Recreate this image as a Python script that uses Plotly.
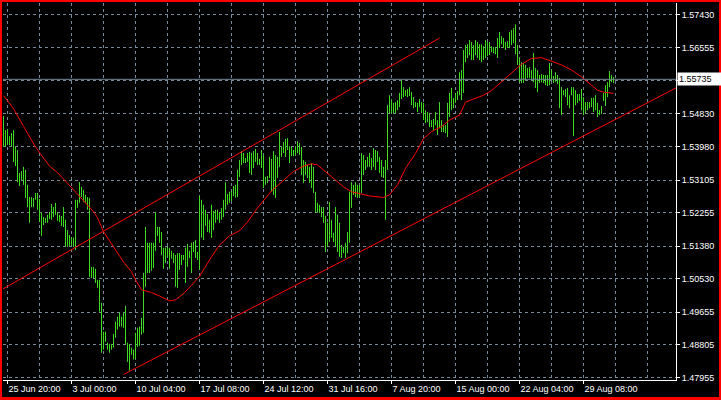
import plotly.graph_objects as go

# ---- bar data (H4 bars, index = bar number) ----
highs = [
1.5478,1.5441,1.5444,1.5425,1.5433,1.5441,1.5397,1.5389,1.5329,1.5334,
1.5345,1.5337,1.5298,1.5266,1.5266,1.5264,1.5277,1.5277,1.5261,1.5225,
1.5214,1.5212,1.5220,1.5227,1.5248,1.5240,1.5251,1.5225,1.5220,1.5217,
1.5240,1.5207,1.5180,1.5167,1.5162,1.5160,1.5259,1.5259,1.5305,1.5293,
1.5285,1.5272,1.5266,1.5264,1.5084,1.5084,1.5079,1.5050,1.5050,1.4990,
1.4915,1.4915,1.4886,1.4883,1.4883,1.4909,1.4941,1.4954,1.4964,1.4954,
1.4964,1.4982,1.4886,1.4883,1.4873,1.4868,1.4912,1.4925,1.4928,1.4951,
1.5068,1.5188,1.5147,1.5147,1.5147,1.5147,1.5225,1.5188,1.5188,1.5175,
1.5134,1.5134,1.5136,1.5134,1.5126,1.5120,1.5115,1.5120,1.5120,1.5115,
1.5115,1.5134,1.5144,1.5126,1.5147,1.5149,1.5154,1.5123,1.5269,1.5259,
1.5246,1.5233,1.5222,1.5207,1.5246,1.5230,1.5233,1.5233,1.5225,1.5238,
1.5259,1.5305,1.5274,1.5280,1.5282,1.5295,1.5298,1.5337,1.5363,1.5386,
1.5381,1.5368,1.5381,1.5384,1.5381,1.5386,1.5392,1.5381,1.5366,1.5389,
1.5376,1.5319,1.5321,1.5371,1.5366,1.5386,1.5376,1.5371,1.5436,1.5397,
1.5410,1.5418,1.5420,1.5399,1.5397,1.5389,1.5399,1.5412,1.5407,1.5397,
1.5363,1.5358,1.5350,1.5345,1.5355,1.5345,1.5280,1.5251,1.5246,1.5240,
1.5240,1.5217,1.5199,1.5253,1.5207,1.5173,1.5240,1.5220,1.5199,1.5141,
1.5136,1.5147,1.5175,1.5280,1.5305,1.5298,1.5305,1.5298,1.5298,1.5381,
1.5376,1.5363,1.5371,1.5381,1.5368,1.5394,1.5389,1.5386,1.5371,1.5363,
1.5345,1.5363,1.5506,1.5532,1.5519,1.5512,1.5514,1.5519,1.5538,1.5571,
1.5553,1.5545,1.5548,1.5553,1.5540,1.5527,1.5514,1.5512,1.5522,1.5514,
1.5512,1.5493,1.5488,1.5485,1.5467,1.5470,1.5488,1.5467,1.5514,1.5467,
1.5454,1.5454,1.5512,1.5538,1.5551,1.5525,1.5538,1.5543,1.5592,1.5598,
1.5650,1.5663,1.5665,1.5676,1.5671,1.5663,1.5676,1.5671,1.5665,1.5665,
1.5660,1.5676,1.5671,1.5671,1.5660,1.5658,1.5658,1.5681,1.5697,1.5686,
1.5681,1.5671,1.5673,1.5697,1.5702,1.5707,1.5717,1.5663,1.5629,1.5618,
1.5616,1.5611,1.5603,1.5605,1.5598,1.5642,1.5603,1.5598,1.5585,1.5587,
1.5585,1.5585,1.5585,1.5616,1.5598,1.5582,1.5592,1.5585,1.5577,1.5553,
1.5545,1.5548,1.5551,1.5532,1.5553,1.5553,1.5545,1.5535,1.5535,1.5548,
1.5527,1.5514,1.5514,1.5514,1.5525,1.5525,1.5532,1.5512,1.5493,1.5504,
1.5538,1.5558,1.5566,1.5595,1.5585,1.5579]

lows = [
1.5397,1.5397,1.5402,1.5402,1.5399,1.5358,1.5347,1.5305,1.5295,1.5311,
1.5298,1.5264,1.5240,1.5199,1.5240,1.5240,1.5259,1.5233,1.5201,1.5165,
1.5193,1.5199,1.5199,1.5209,1.5207,1.5214,1.5220,1.5204,1.5201,1.5191,
1.5188,1.5136,1.5136,1.5139,1.5139,1.5136,1.5128,1.5238,1.5251,1.5266,
1.5253,1.5251,1.5233,1.5058,1.5055,1.5055,1.5042,1.5029,1.4967,1.4860,
1.4868,1.4888,1.4868,1.4860,1.4868,1.4873,1.4899,1.4920,1.4928,1.4928,
1.4925,1.4881,1.4836,1.4813,1.4855,1.4842,1.4844,1.4875,1.4878,1.4907,
1.4912,1.5032,1.5068,1.5068,1.5074,1.5081,1.5126,1.5165,1.5147,1.5115,
1.5079,1.5094,1.5110,1.5079,1.5105,1.5094,1.5032,1.5029,1.5076,1.5089,
1.5102,1.5042,1.5084,1.5107,1.5068,1.5123,1.5107,1.5102,1.5076,1.5160,
1.5154,1.5191,1.5175,1.5173,1.5160,1.5180,1.5199,1.5207,1.5199,1.5207,
1.5214,1.5233,1.5246,1.5251,1.5256,1.5269,1.5264,1.5266,1.5319,1.5350,
1.5355,1.5355,1.5358,1.5329,1.5324,1.5342,1.5358,1.5350,1.5350,1.5342,
1.5290,1.5298,1.5303,1.5316,1.5280,1.5272,1.5264,1.5316,1.5345,1.5371,
1.5381,1.5371,1.5389,1.5355,1.5373,1.5373,1.5376,1.5381,1.5376,1.5324,
1.5303,1.5324,1.5316,1.5303,1.5290,1.5277,1.5225,1.5227,1.5225,1.5214,
1.5199,1.5123,1.5136,1.5149,1.5160,1.5149,1.5136,1.5123,1.5110,1.5107,
1.5120,1.5107,1.5120,1.5147,1.5238,1.5272,1.5266,1.5264,1.5266,1.5277,
1.5324,1.5337,1.5345,1.5345,1.5337,1.5345,1.5337,1.5358,1.5329,1.5319,
1.5316,1.5207,1.5337,1.5485,1.5485,1.5485,1.5485,1.5493,1.5501,1.5522,
1.5527,1.5530,1.5527,1.5530,1.5506,1.5498,1.5501,1.5488,1.5501,1.5485,
1.5467,1.5459,1.5462,1.5449,1.5449,1.5441,1.5454,1.5428,1.5446,1.5436,
1.5436,1.5433,1.5423,1.5475,1.5493,1.5498,1.5512,1.5519,1.5532,1.5519,
1.5538,1.5618,1.5629,1.5637,1.5624,1.5624,1.5637,1.5629,1.5624,1.5618,
1.5624,1.5629,1.5634,1.5637,1.5644,1.5642,1.5639,1.5629,1.5655,1.5665,
1.5655,1.5650,1.5655,1.5655,1.5663,1.5668,1.5639,1.5611,1.5566,1.5564,
1.5564,1.5571,1.5577,1.5577,1.5571,1.5566,1.5551,1.5540,1.5564,1.5566,
1.5564,1.5558,1.5556,1.5558,1.5571,1.5564,1.5566,1.5561,1.5498,1.5480,
1.5532,1.5527,1.5506,1.5498,1.5532,1.5425,1.5506,1.5512,1.5517,1.5493,
1.5480,1.5485,1.5493,1.5498,1.5501,1.5488,1.5493,1.5475,1.5480,1.5483,
1.5517,1.5504,1.5527,1.5553,1.5566,1.5564]

# ---- moving average (read at selected bars) ----
ma_idx = [0,5,10,16,23,27,31,35,38,42,45,47,50,55,60,64,66,69,74,78,
          80,83,86,90,94,98,103,108,113,118,122,127,134,140,145,150,154,157,160,165,
          170,174,179,183,190,193,197,201,206,210,214,219,223,228,231,235,240,244,247,251,
          256,259,264,269,274,279,284,289,294,297,300,304,305]
ma_val = [1.5531,1.5497,1.5451,1.5397,1.5347,1.5330,1.5308,1.5285,1.5268,1.5247,
          1.5228,1.5212,1.5176,1.5136,1.5097,1.5071,1.5050,1.5024,1.5017,1.5008,
          1.5002,1.4995,1.4998,1.5014,1.5036,1.5059,1.5102,1.5141,1.5165,1.5178,
          1.5201,1.5238,1.5282,1.5311,1.5333,1.5347,1.5353,1.5350,1.5337,1.5315,
          1.5293,1.5280,1.5274,1.5269,1.5265,1.5272,1.5298,1.5341,1.5380,1.5419,
          1.5437,1.5450,1.5467,1.5480,1.5514,1.5522,1.5532,1.5544,1.5558,1.5575,
          1.5599,1.5613,1.5628,1.5630,1.5621,1.5611,1.5598,1.5580,1.5558,1.5545,
          1.5540,1.5537,1.5537]

# ---- trend lines (bar index, price) ----
upper_x = [-1, 218]
upper_y = [1.5024, 1.5681]
lower_x = [60, 337]
lower_y = [1.4803, 1.5553]

current_price = 1.55735

y_tick_vals = [1.57430, 1.56555, 1.55705, 1.54830, 1.53980, 1.53105,
               1.52255, 1.51380, 1.50530, 1.49655, 1.48805, 1.47955]
y_tick_text = ["1.57430", "1.56555", "", "1.54830", "1.53980", "1.53105",
               "1.52255", "1.51380", "1.50530", "1.49655", "1.48805", "1.47955"]
x_tick_idx = [2, 34, 66, 98, 130, 162, 194, 226, 258, 290]
x_tick_text = ["25 Jun 20:00", "3 Jul 00:00", "10 Jul 04:00", "17 Jul 08:00",
               "24 Jul 12:00", "31 Jul 16:00", "7 Aug 20:00", "15 Aug 00:00",
               "22 Aug 04:00", "29 Aug 08:00"]

GREEN = "#3ddc1f"
RED = "#ff0000"
GRID = "#778899"
FONT = "Liberation Sans"

bx, by = [], []
for i, (h, l) in enumerate(zip(highs, lows)):
    bx += [i, i, None]
    by += [l, h, None]

fig = go.Figure()
fig.add_trace(go.Scatter(x=bx, y=by, mode="lines",
                         line=dict(color=GREEN, width=1), hoverinfo="skip"))
fig.add_trace(go.Scatter(x=ma_idx, y=ma_val, mode="lines",
                         line=dict(color=RED, width=1), hoverinfo="skip"))
fig.add_trace(go.Scatter(x=upper_x, y=upper_y, mode="lines",
                         line=dict(color=RED, width=1), hoverinfo="skip"))
fig.add_trace(go.Scatter(x=lower_x, y=lower_y, mode="lines",
                         line=dict(color=RED, width=1), hoverinfo="skip"))

W, H = 721, 400
L, R, T, B = 3, 45, 3, 20
pw, ph = W - L - R, H - T - B


def px2paper_x(px):
    return (px - L) / pw


def py2paper_y(py):
    return (H - B - py) / ph


shapes = [
    dict(type="line", xref="paper", yref="y", x0=0, x1=1,
         y0=current_price, y1=current_price, line=dict(color=GRID, width=1)),
]
# red frame around the window
for (x0, x1, y0, y1) in [(0, 2, 0, H), (W - 2, W, 0, H), (0, W, 0, 2), (0, W, H - 3, H)]:
    shapes.append(dict(type="rect", xref="paper", yref="paper",
                       x0=px2paper_x(x0), x1=px2paper_x(x1),
                       y0=py2paper_y(y1), y1=py2paper_y(y0),
                       fillcolor=RED, line=dict(width=0), layer="above"))

fig.update_layout(
    width=W, height=H,
    margin=dict(l=L, r=R, t=T, b=B, pad=0),
    paper_bgcolor="black", plot_bgcolor="black",
    showlegend=False,
    font=dict(family=FONT, size=9, color="white"),
    shapes=shapes,
    annotations=[dict(xref="paper", yref="y", x=1, y=current_price,
                      xanchor="left", yanchor="middle", xshift=1,
                      text="1.55735", showarrow=False, bgcolor="white",
                      font=dict(family=FONT, size=9, color="black"),
                      borderpad=1, width=44, align="left")],
    xaxis=dict(range=[-0.25, -0.25 + pw / 2], tickmode="array",
               tickvals=x_tick_idx, ticktext=x_tick_text,
               ticks="outside", ticklen=3, tickcolor="white",
               ticklabelposition="outside right",
               showline=True, linecolor="white", linewidth=1,
               showgrid=True, gridcolor=GRID, gridwidth=1, griddash="3px,3px",
               zeroline=False, tickfont=dict(family=FONT, size=9, color="white"),
               minor=dict(tick0=2, dtick=16, showgrid=True, gridcolor=GRID,
                          gridwidth=1, griddash="3px,3px", ticks="")),
    yaxis=dict(side="right", range=[1.478867, 1.577272], tickmode="array",
               tickvals=y_tick_vals, ticktext=y_tick_text,
               ticks="outside", ticklen=3, tickcolor="white",
               showline=True, linecolor="white", linewidth=1,
               showgrid=True, gridcolor=GRID, gridwidth=1, griddash="3px,3px",
               zeroline=False, tickfont=dict(family=FONT, size=9, color="white")),
)

fig.write_html("out.html", config={"displayModeBar": False},
               post_script="document.body.style.margin='0';"
                           "document.body.style.overflow='hidden';")
